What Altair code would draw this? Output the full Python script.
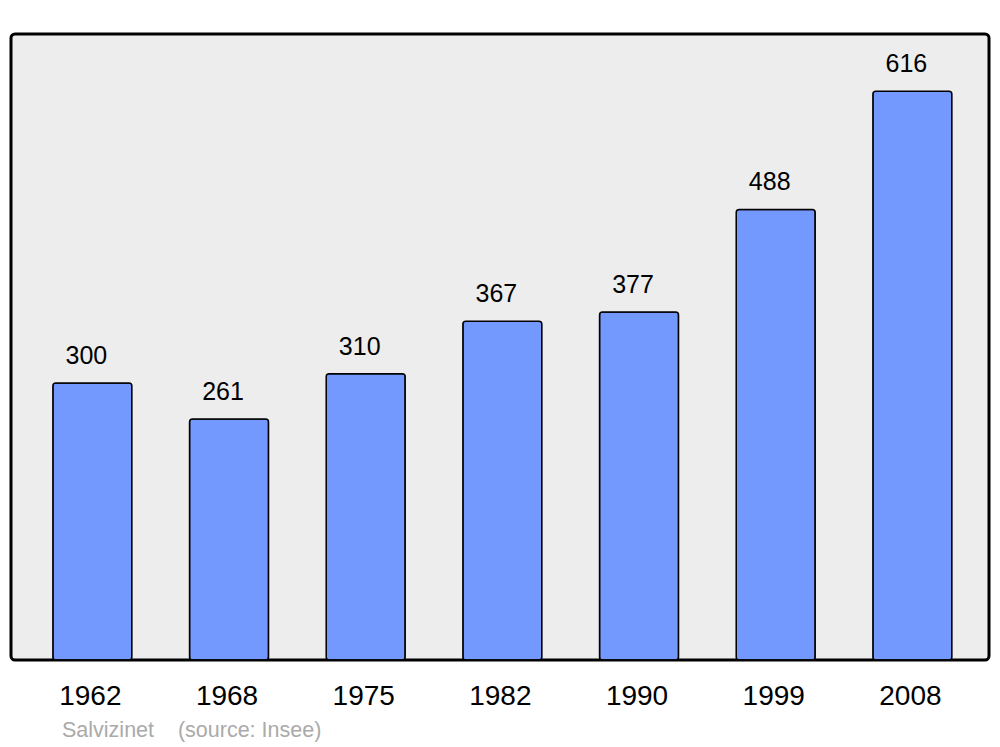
import altair as alt
import pandas as pd

years = ["1962", "1968", "1975", "1982", "1990", "1999", "2008"]
population = [300, 261, 310, 367, 377, 488, 616]

df = pd.DataFrame({"year": years, "pop": population})

FONT = "Liberation Sans"

x = alt.X("year:N", sort=years, title=None,
          scale=alt.Scale(paddingInner=0.422, paddingOuter=0.289, align=0.53),
          axis=alt.Axis(labelAngle=0, ticks=False, domain=False, labelFontSize=28,
                        labelFont=FONT, labelColor="#000000", labelPadding=22,
                        labelOffset=-2))
y = alt.Y("pop:Q", title=None, scale=alt.Scale(domain=[0, 678], nice=False, zero=True),
          axis=None)

bars = alt.Chart(df).mark_bar(
    color="#7399FF", stroke="#000000", strokeWidth=1.5, cornerRadius=3
).encode(x=x, y=y)

labels = alt.Chart(df).mark_text(
    font=FONT, fontSize=25, color="#000000", baseline="alphabetic", dy=-19, dx=-6
).encode(x=x, y=y, text=alt.Text("pop:Q"))

chart = alt.layer(bars, labels).properties(
    width=978, height=626,
    autosize=alt.AutoSizeParams(type="none"),
    padding={"left": 3, "top": 26, "right": 3, "bottom": 100},
    title=alt.TitleParams(
        "Salvizinet\u00a0\u00a0\u00a0\u00a0(source: Insee)",
        orient="bottom", anchor="start", dx=51, offset=10,
        font=FONT, fontSize=21.5, fontWeight="normal", color="#AAAAAA",
    ),
).configure(
    background="#FFFFFF",
    view=alt.ViewConfig(fill="#EDEDED", stroke="#000000", strokeWidth=3, cornerRadius=4),
)

chart.save("out.html", embed_options={"renderer": "svg", "actions": False})
